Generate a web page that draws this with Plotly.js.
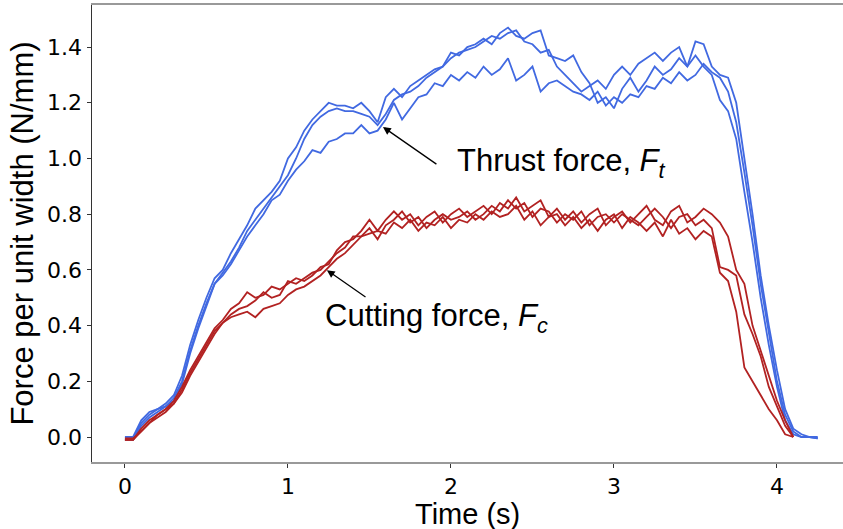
<!DOCTYPE html>
<html>
<head>
<meta charset="utf-8">
<script src="https://cdn.plot.ly/plotly-3.0.1.min.js"></script>
<style>html,body{margin:0;padding:0;background:#fff;}#chart{width:843px;height:529px;}</style>
</head>
<body>
<div id="chart"></div>
<script>
// Time axis (s)
const time = [0.00,0.05,0.10,0.15,0.20,0.25,0.30,0.35,0.40,0.45,0.50,0.55,0.60,0.65,0.70,0.75,0.80,0.85,0.90,0.95,
1.00,1.05,1.10,1.15,1.20,1.25,1.30,1.35,1.40,1.45,1.50,1.55,1.60,1.65,1.70,1.75,1.80,1.85,1.90,1.95,
2.00,2.05,2.10,2.15,2.20,2.25,2.30,2.35,2.40,2.45,2.50,2.55,2.60,2.65,2.70,2.75,2.80,2.85,2.90,2.95,
3.00,3.05,3.10,3.15,3.20,3.25,3.30,3.35,3.40,3.45,3.50,3.55,3.60,3.65,3.70,3.75,3.80,3.85,3.90,3.95,
4.00,4.05,4.10,4.15,4.20,4.25];

// Thrust force runs (N/mm)
const thrust1 = [0.00,0.00,0.06,0.09,0.10,0.12,0.15,0.22,0.33,0.42,0.50,0.57,0.60,0.66,0.71,0.76,0.82,0.85,0.88,0.92,
1.00,1.04,1.10,1.14,1.17,1.20,1.19,1.19,1.18,1.20,1.17,1.13,1.22,1.25,1.22,1.26,1.28,1.30,1.32,1.33,
1.38,1.37,1.40,1.41,1.43,1.41,1.45,1.47,1.44,1.43,1.45,1.46,1.37,1.36,1.35,1.37,1.31,1.27,1.20,1.22,
1.18,1.25,1.29,1.24,1.28,1.33,1.30,1.32,1.36,1.33,1.42,1.41,1.33,1.30,1.29,1.20,1.00,0.80,0.58,0.40,
0.24,0.10,0.03,0.01,0.00,-0.005];
const thrust2 = [-0.005,-0.005,0.05,0.08,0.10,0.11,0.14,0.20,0.31,0.40,0.48,0.55,0.59,0.63,0.68,0.74,0.78,0.82,0.86,0.90,
0.94,1.00,1.07,1.12,1.15,1.17,1.18,1.17,1.17,1.16,1.15,1.12,1.16,1.21,1.23,1.24,1.26,1.29,1.31,1.33,
1.36,1.38,1.39,1.40,1.42,1.44,1.43,1.45,1.46,1.42,1.41,1.38,1.39,1.33,1.30,1.27,1.24,1.26,1.28,1.25,
1.30,1.33,1.30,1.34,1.36,1.38,1.35,1.38,1.40,1.33,1.37,1.33,1.30,1.21,1.17,1.07,0.88,0.70,0.50,0.33,
0.18,0.06,0.01,0.00,0.00,0.00];
const thrust3 = [-0.01,-0.01,0.04,0.07,0.09,0.11,0.13,0.19,0.30,0.39,0.47,0.55,0.58,0.62,0.67,0.72,0.76,0.80,0.85,0.87,
0.92,0.96,0.99,1.03,1.02,1.06,1.07,1.09,1.09,1.12,1.09,1.10,1.14,1.20,1.14,1.18,1.22,1.23,1.27,1.26,
1.30,1.28,1.31,1.29,1.33,1.30,1.32,1.36,1.28,1.30,1.33,1.24,1.27,1.28,1.26,1.24,1.23,1.21,1.24,1.19,
1.22,1.20,1.23,1.22,1.26,1.25,1.29,1.27,1.31,1.28,1.30,1.34,1.31,1.29,1.24,1.13,0.95,0.76,0.55,0.37,
0.20,0.08,0.02,0.00,0.00,-0.005];

// Cutting force runs (N/mm)
const cutting1 = [-0.01,-0.01,0.03,0.06,0.08,0.10,0.13,0.18,0.24,0.29,0.34,0.39,0.42,0.46,0.48,0.52,0.50,0.51,0.54,0.53,
0.55,0.57,0.56,0.58,0.61,0.62,0.67,0.70,0.71,0.74,0.78,0.74,0.78,0.81,0.78,0.80,0.76,0.79,0.81,0.77,
0.80,0.82,0.79,0.81,0.83,0.80,0.84,0.82,0.86,0.81,0.83,0.85,0.79,0.82,0.78,0.81,0.77,0.80,0.82,0.76,
0.79,0.81,0.77,0.80,0.83,0.78,0.76,0.81,0.83,0.77,0.79,0.82,0.80,0.77,0.72,0.60,0.55,0.40,0.31,0.22,
0.13,0.06,0.00];
const cutting2 = [-0.01,-0.01,0.02,0.05,0.08,0.10,0.12,0.17,0.23,0.28,0.33,0.38,0.41,0.44,0.46,0.47,0.49,0.52,0.50,0.51,
0.56,0.55,0.57,0.59,0.60,0.63,0.66,0.68,0.72,0.72,0.75,0.71,0.76,0.78,0.81,0.77,0.79,0.75,0.78,0.80,
0.78,0.79,0.81,0.78,0.80,0.83,0.81,0.85,0.82,0.84,0.79,0.82,0.81,0.77,0.80,0.78,0.81,0.76,0.79,0.80,
0.77,0.80,0.78,0.76,0.79,0.82,0.79,0.75,0.79,0.80,0.76,0.78,0.75,0.61,0.60,0.58,0.44,0.37,0.29,0.18,
0.11,0.04,0.00];
const cutting3 = [-0.005,-0.005,0.02,0.05,0.07,0.09,0.12,0.16,0.22,0.27,0.32,0.37,0.41,0.43,0.44,0.45,0.43,0.46,0.47,0.48,
0.51,0.53,0.54,0.56,0.58,0.61,0.64,0.66,0.69,0.72,0.73,0.74,0.73,0.77,0.75,0.78,0.74,0.77,0.76,0.79,
0.75,0.78,0.77,0.80,0.78,0.81,0.79,0.80,0.83,0.78,0.81,0.76,0.79,0.80,0.76,0.79,0.75,0.78,0.74,0.78,
0.80,0.75,0.79,0.77,0.74,0.77,0.72,0.78,0.73,0.75,0.71,0.74,0.72,0.59,0.56,0.45,0.25,0.20,0.15,0.10,
0.06,0.01,0.00];

const blue = '#4169E1';
const red = '#B22222';

const traces = [];
[thrust1, thrust2, thrust3].forEach(y => traces.push({x: time, y: y, type: 'scatter', mode: 'lines', line: {color: blue, width: 1.8}, hoverinfo: 'skip'}));
[cutting1, cutting2, cutting3].forEach(y => traces.push({x: time, y: y, type: 'scatter', mode: 'lines', line: {color: red, width: 1.8}, hoverinfo: 'skip'}));

const annFont = {family: 'Liberation Sans, Arial, sans-serif', size: 31, color: '#000'};

const layout = {
  width: 843, height: 529,
  margin: {l: 92, r: 0, t: 5, b: 67},
  paper_bgcolor: '#fff', plot_bgcolor: '#fff',
  showlegend: false,
  xaxis: {
    range: [-0.202, 4.405],
    tickvals: [0, 1, 2, 3, 4], ticktext: ['0', '1', '2', '3', '4'],
    ticks: 'outside', ticklen: 4, tickcolor: '#333',
    showgrid: false, zeroline: false,
    showline: true, linecolor: '#999', linewidth: 2, mirror: true,
    tickfont: {family: 'DejaVu Sans, sans-serif', size: 22, color: '#000'}
  },
  yaxis: {
    range: [-0.0897, 1.551],
    tickvals: [0, 0.2, 0.4, 0.6, 0.8, 1.0, 1.2, 1.4],
    ticktext: ['0.0', '0.2', '0.4', '0.6', '0.8', '1.0', '1.2', '1.4'],
    ticks: 'outside', ticklen: 4, tickcolor: '#333',
    showgrid: false, zeroline: false,
    showline: true, linecolor: '#333', linewidth: 1.5, mirror: false,
    tickfont: {family: 'DejaVu Sans, sans-serif', size: 22, color: '#000'},
    title: {text: 'Force per unit width (N/mm)', font: {family: 'Liberation Sans, Arial, sans-serif', size: 31, color: '#000'}, standoff: 4}
  },
  annotations: [
    {x: 0.5, y: -0.1138, xref: 'paper', yref: 'paper', xanchor: 'center', yanchor: 'middle', showarrow: false,
     text: 'Time (s)', font: {family: 'Liberation Sans, Arial, sans-serif', size: 29, color: '#000'}},
    {x: 1.583, y: 1.113, xref: 'x', yref: 'y', ax: 1.92, ay: 0.976, axref: 'x', ayref: 'y',
     text: '', showarrow: true, arrowhead: 2, arrowsize: 1.2, arrowwidth: 1.3, arrowcolor: '#000'},
    {x: 2.025, y: 0.983, xref: 'x', yref: 'y', xanchor: 'left', yanchor: 'middle', showarrow: false,
     text: 'Thrust force, <i>F</i><sub><i>t</i></sub>', font: annFont},
    {x: 1.239, y: 0.599, xref: 'x', yref: 'y', ax: 1.485, ay: 0.499, axref: 'x', ayref: 'y',
     text: '', showarrow: true, arrowhead: 2, arrowsize: 1.2, arrowwidth: 1.3, arrowcolor: '#000'},
    {x: 1.215, y: 0.427, xref: 'x', yref: 'y', xanchor: 'left', yanchor: 'middle', showarrow: false,
     text: 'Cutting force, <i>F</i><sub><i>c</i></sub>', font: annFont}
  ]
};

Plotly.newPlot('chart', traces, layout, {staticPlot: true, displayModeBar: false});
</script>
</body>
</html>
